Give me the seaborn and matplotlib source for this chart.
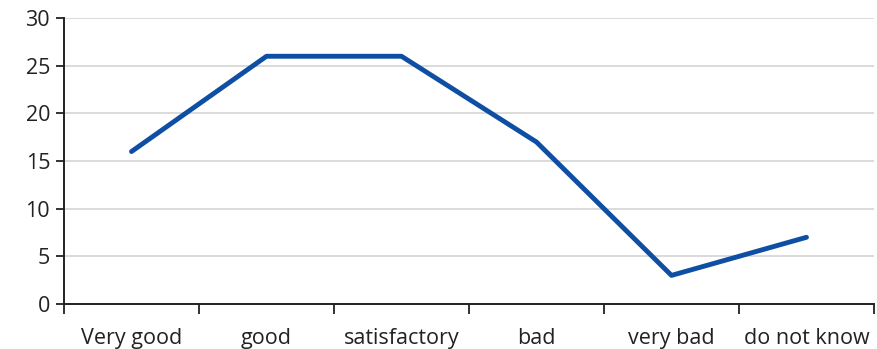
import matplotlib
matplotlib.use("Agg")
import matplotlib.pyplot as plt
import seaborn as sns
import pandas as pd

categories = ["Very good", "good", "satisfactory", "bad", "very bad", "do not know"]
values = [16, 26, 26, 17, 3, 7]
y_ticks = [0, 5, 10, 15, 20, 25, 30]

sns.set_theme(style="white")
plt.rcParams["font.family"] = ["Open Sans", "DejaVu Sans"]

df = pd.DataFrame({"category": categories, "value": values})

fig = plt.figure(figsize=(8.78, 3.49), dpi=100)
ax = fig.add_axes([0.0729, 0.129, 0.9225, 0.819])

sns.lineplot(data=df, x="category", y="value", ax=ax, color="#0E4FA3",
             linewidth=3.5, sort=False, solid_capstyle="round", zorder=3)

ax.set_xlim(-0.5, len(categories) - 0.5)
ax.set_ylim(0, 30)
ax.set_yticks(y_ticks)
ax.set_yticklabels([str(t) for t in y_ticks], fontsize=15.5, color="#222222")
ax.grid(axis="y", color="#d4d4d4", linewidth=1.2, zorder=0)
ax.set_axisbelow(True)

# category labels centered, tick marks on the category boundaries
ax.set_xticks(range(len(categories)))
ax.set_xticklabels(categories, fontsize=15.5, color="#222222")
ax.tick_params(axis="x", which="major", bottom=True, length=0, pad=17)
ax.set_xticks([i - 0.5 for i in range(len(categories) + 1)], minor=True)
ax.tick_params(axis="x", which="minor", bottom=True, length=7, width=1.3,
               color="#222222", direction="out")
ax.tick_params(axis="y", left=True, length=6, width=1.3, color="#222222",
               direction="out", pad=4)

for side in ["top", "right"]:
    ax.spines[side].set_visible(False)
for side in ["left", "bottom"]:
    ax.spines[side].set_color("#222222")
    ax.spines[side].set_linewidth(1.4)

ax.set_xlabel("")
ax.set_ylabel("")

fig.savefig("out.png", dpi=100)
